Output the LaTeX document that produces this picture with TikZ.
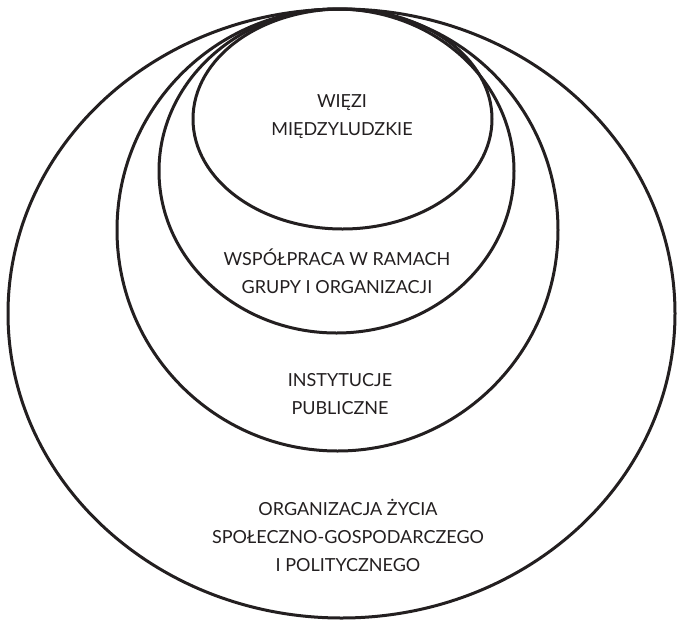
\documentclass[tikz,border=0pt]{standalone}
\usepackage{fontspec}
\setmainfont{Lato}
\definecolor{ink}{HTML}{231F20}
\begin{document}
\begin{tikzpicture}[x=1pt,y=-1pt,
  ring/.style={draw=ink,line width=3pt},
  lbl/.style={text=ink,align=center,font=\fontsize{18}{28}\selectfont,inner sep=0pt}]
\useasboundingbox (0,0) rectangle (678,622);
\draw[ring] (341.5,313.5) ellipse [x radius=333.5pt, y radius=304.5pt];
\draw[ring] (337.5,230) ellipse [x radius=220.5pt, y radius=221pt];
\draw[ring] (336.5,171) ellipse [x radius=177.5pt, y radius=162pt];
\draw[ring] (342.5,119) ellipse [x radius=149.5pt, y radius=110pt];
\node[lbl] (t1) at (342,117) {WIĘZI\\MIĘDZYLUDZKIE};
\node[lbl] (t2) at (337,271) {WSPÓŁPRACA W RAMACH\\GRUPY I ORGANIZACJI};
\node[lbl] (t3) at (340,394) {INSTYTUCJE\\PUBLICZNE};
\node[lbl] (t4) at (348,535) {ORGANIZACJA ŻYCIA\\SPOŁECZNO-GOSPODARCZEGO\\I POLITYCZNEGO};
\end{tikzpicture}
\end{document}
